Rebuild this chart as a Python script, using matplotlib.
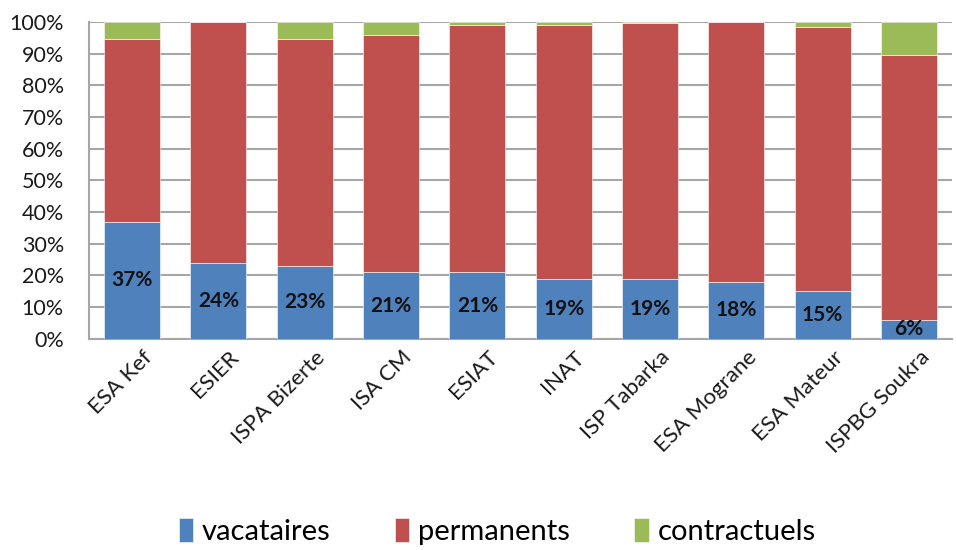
import matplotlib
matplotlib.use("Agg")
import matplotlib.pyplot as plt
import matplotlib.transforms as mtransforms
import numpy as np

categories = ["ESA Kef", "ESIER", "ISPA Bizerte", "ISA CM", "ESIAT", "INAT",
              "ISP Tabarka", "ESA Mograne", "ESA Mateur", "ISPBG Soukra"]
vacataires = [37, 24, 23, 21, 21, 19, 19, 18, 15, 6]
permanents = [57.5, 76, 71.5, 75, 78, 80, 80.8, 82, 83.5, 83.6]
contractuels = [5.5, 0, 5.5, 4, 1, 1, 0.2, 0, 1.5, 10.4]
series_names = ["vacataires", "permanents", "contractuels"]
colors = ["#4F81BD", "#C0504D", "#9BBB59"]

plt.rcParams['font.family'] = ['Lato', 'DejaVu Sans']

fig = plt.figure(figsize=(9.56, 5.5), dpi=100)
ax = fig.add_axes([0.093, 0.384, 0.903, 0.576])

x = np.arange(len(categories))
w = 0.65
vac = np.array(vacataires)
per = np.array(permanents)
con = np.array(contractuels)
ax.bar(x, vac, w, color=colors[0], label=series_names[0], zorder=3, edgecolor="white", linewidth=0.4)
ax.bar(x, per, w, bottom=vac, color=colors[1], label=series_names[1], zorder=3, edgecolor="white", linewidth=0.4)
ax.bar(x, con, w, bottom=vac + per, color=colors[2], label=series_names[2], zorder=3, edgecolor="white", linewidth=0.4)

for xi, v in zip(x, vac):
    ax.text(xi, v / 2, f"{v:.0f}%", ha="center", va="center", fontsize=15,
            fontweight="bold", color="#111111", zorder=4)

ax.set_xlim(-0.5, len(categories) - 0.5)
ax.set_ylim(0, 100)
ax.set_yticks(np.arange(0, 101, 10))
ax.set_yticklabels([f"{t}%" for t in range(0, 101, 10)], fontsize=15.5, color="#1a1a1a")
ax.yaxis.grid(True, color="#a6a6a6", linewidth=1.5, zorder=0)
ax.set_axisbelow(True)
ax.set_xticks(x)
ax.set_xticklabels(categories, rotation=45, ha="right", rotation_mode="anchor",
                   fontsize=16, color="#1a1a1a")
ax.tick_params(axis="y", length=0, pad=18)
ax.tick_params(axis="x", length=0, pad=6)
offset = mtransforms.ScaledTranslation(10 / 100, 0, fig.dpi_scale_trans)
for lbl in ax.get_xticklabels():
    lbl.set_transform(lbl.get_transform() + offset)
for s in ["top", "right"]:
    ax.spines[s].set_visible(False)
for s in ["left", "bottom"]:
    ax.spines[s].set_color("#a6a6a6")
    ax.spines[s].set_linewidth(1.5)

leg = fig.legend(loc="center", bbox_to_anchor=(0.52, 0.034), ncol=3, frameon=False,
                 fontsize=21, handlelength=0.5, handleheight=0.9, handletextpad=0.3,
                 columnspacing=2.2)

fig.savefig("out.png", dpi=100)
